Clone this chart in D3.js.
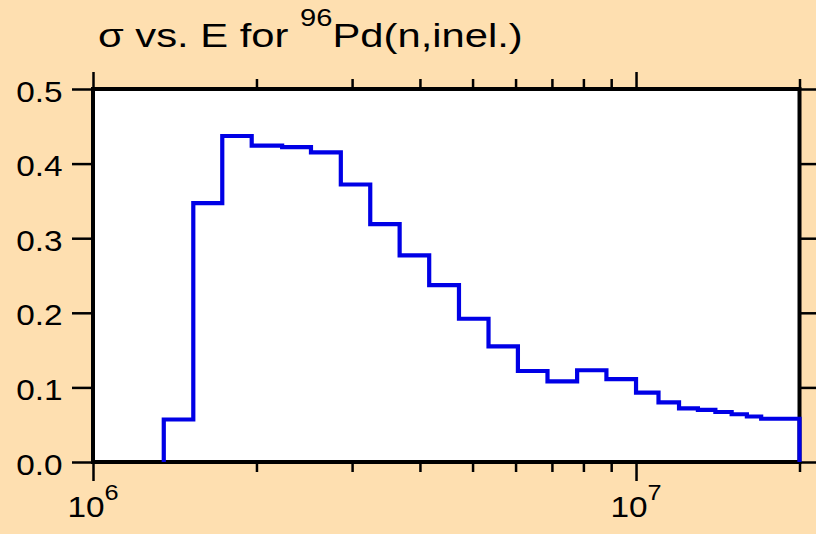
<!DOCTYPE html>
<html>
<head>
<meta charset="utf-8">
<script src="https://cdn.jsdelivr.net/npm/d3@7"></script>
<style>
  html, body { margin: 0; padding: 0; background: #fedfb0; }
  svg { display: block; font-family: "Liberation Sans", Arial, sans-serif; }
</style>
</head>
<body>
<div id="chart"></div>
<script>
// bin edges (MeV) and cross sections (b)
const binEdgesMeV = [1.35, 1.53, 1.73, 1.96, 2.23, 2.52, 2.86, 3.24, 3.67, 4.16, 4.72,
  5.35, 6.06, 6.87, 7.79, 8.82, 10, 11, 12, 13, 14, 15, 16, 17, 18, 19, 20];
const sigma = [0.057, 0.347, 0.437, 0.424, 0.422, 0.415, 0.372, 0.319, 0.277, 0.237,
  0.192, 0.155, 0.122, 0.108, 0.123, 0.111, 0.093, 0.080, 0.072, 0.070,
  0.067, 0.064, 0.061, 0.058, 0.058, 0.058];

const yTicks = [0, 0.1, 0.2, 0.3, 0.4, 0.5];
const xMajorTicks = [1e6, 1e7];
const xMinorTicks = [2e6, 3e6, 4e6, 5e6, 6e6, 7e6, 8e6, 9e6, 2e7];
const xDomain = [1e6, 2e7];
const yDomain = [0, 0.5];

const width = 816;
const height = 534;
const margin = { top: 89, right: 16.5, bottom: 72, left: 93 };
const stretch = 1.15; // glyphs in the original are a bit wide

const svg = d3.select('#chart')
  .append('svg')
  .attr('width', width)
  .attr('height', height);

svg.append('rect')
  .attr('width', width)
  .attr('height', height)
  .attr('fill', '#fedfb0');

const x = d3.scaleLog()
  .domain(xDomain)
  .range([margin.left, width - margin.right]);

const y = d3.scaleLinear()
  .domain(yDomain)
  .range([height - margin.bottom, margin.top]);

const [x0, x1] = x.range();
const [y0, y1] = y.range();

// plot area
svg.append('rect')
  .attr('x', x0)
  .attr('y', y1)
  .attr('width', x1 - x0)
  .attr('height', y0 - y1)
  .attr('fill', '#fff');

// ticks
const tickStyle = (g) => g
  .call((a) => a.select('.domain').remove())
  .call((a) => a.selectAll('line').attr('stroke', '#000').attr('stroke-width', 2.5))
  .call((a) => a.selectAll('text').remove());

svg.append('g')
  .attr('transform', `translate(0,${y0})`)
  .call(d3.axisBottom(x).tickValues(xMajorTicks).tickSize(19).tickFormat(''))
  .call(tickStyle);
svg.append('g')
  .attr('transform', `translate(0,${y0})`)
  .call(d3.axisBottom(x).tickValues(xMinorTicks).tickSize(10).tickFormat(''))
  .call(tickStyle);
svg.append('g')
  .attr('transform', `translate(0,${y1})`)
  .call(d3.axisTop(x).tickValues(xMajorTicks).tickSize(17).tickFormat(''))
  .call(tickStyle);
svg.append('g')
  .attr('transform', `translate(0,${y1})`)
  .call(d3.axisTop(x).tickValues(xMinorTicks).tickSize(10).tickFormat(''))
  .call(tickStyle);
svg.append('g')
  .attr('transform', `translate(${x0},0)`)
  .call(d3.axisLeft(y).tickValues(yTicks).tickSize(21).tickFormat(''))
  .call(tickStyle);
svg.append('g')
  .attr('transform', `translate(${x1},0)`)
  .call(d3.axisRight(y).tickValues(yTicks).tickSize(21).tickFormat(''))
  .call(tickStyle);

// tick labels
svg.append('g')
  .selectAll('text')
  .data(yTicks)
  .join('text')
  .attr('transform', (d) => `translate(62.5,${y(d) + 12.5}) scale(${stretch},1)`)
  .attr('text-anchor', 'end')
  .attr('font-size', 29)
  .attr('fill', '#000')
  .text(d3.format('.1f'));

svg.append('g')
  .selectAll('text')
  .data(xMajorTicks)
  .join('text')
  .attr('transform', (d) => `translate(${x(d)},517) scale(${stretch},1)`)
  .attr('text-anchor', 'middle')
  .attr('font-size', 29)
  .attr('fill', '#000')
  .call((t) => t.append('tspan').text('10'))
  .call((t) => t.append('tspan')
    .attr('dy', -17)
    .attr('font-size', 22)
    .text((d) => Math.round(Math.log10(d))));

// frame
svg.append('rect')
  .attr('x', x0)
  .attr('y', y1)
  .attr('width', x1 - x0)
  .attr('height', y0 - y1)
  .attr('fill', 'none')
  .attr('stroke', '#000')
  .attr('stroke-width', 4);

// step histogram
const n = sigma.length;
const pts = [{ e: binEdgesMeV[0] * 1e6, v: 0 }]
  .concat(sigma.map((v, i) => ({ e: binEdgesMeV[i] * 1e6, v })))
  .concat([
    { e: binEdgesMeV[n] * 1e6, v: sigma[n - 1] },
    { e: binEdgesMeV[n] * 1e6, v: 0 },
  ]);

svg.append('path')
  .datum(pts)
  .attr('fill', 'none')
  .attr('stroke', '#0000e6')
  .attr('stroke-width', 4.2)
  .attr('stroke-linejoin', 'miter')
  .attr('d', d3.line()
    .x((d) => x(d.e))
    .y((d) => y(d.v))
    .curve(d3.curveStepAfter));

// title, stretched to the width it has in the original
const title = svg.append('text')
  .attr('font-size', 33)
  .attr('fill', '#000');
title.append('tspan').text('σ vs. E for ');
title.append('tspan')
  .attr('font-size', 23)
  .attr('dy', -21)
  .text('96');
title.append('tspan')
  .attr('dy', 21)
  .text('Pd(n,inel.)');
const tw = title.node().getBBox().width;
title.attr('transform', `translate(98,47) scale(${425 / tw},1)`);
</script>
</body>
</html>
